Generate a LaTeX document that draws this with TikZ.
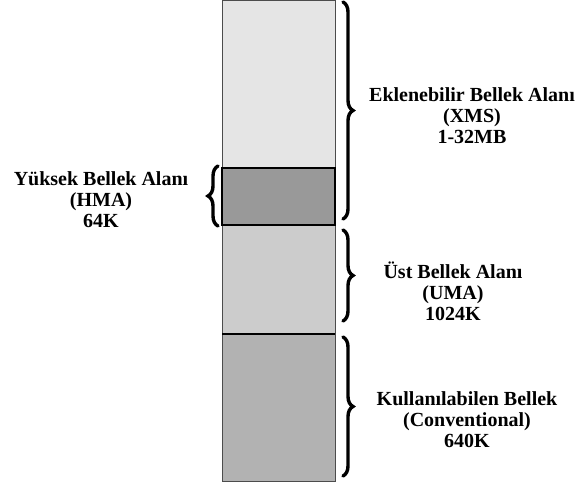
\documentclass[tikz,border=0pt]{standalone}
\usepackage{fontspec}
\setmainfont{Liberation Serif}
\usetikzlibrary{decorations.pathreplacing,positioning}
\tikzset{
  seg/.style={draw=black!70,line width=0.8pt},
  bracestyle/.style={decorate,decoration={brace,amplitude=10pt},line width=3.4pt,line cap=round},
  lbl/.style={align=center,font=\bfseries\fontsize{20}{21}\selectfont,inner sep=0pt}
}
\begin{document}
\begin{tikzpicture}[x=1pt,y=-1pt]
                \useasboundingbox (0,0) rectangle (576,485);
                \def\l{222}
                \def\r{335}
                \coordinate (m0) at (\l,0);
                \coordinate (m1) at (\r,168);
                \coordinate (m2) at (\l,168);
                \coordinate (m3) at (\r,225);
                \coordinate (m4) at (\l,225);
                \coordinate (m5) at (\r,334);
                \coordinate (m6) at (\l,334);
                \coordinate (m7) at (\r,481);
                %Shade
                \filldraw[seg,fill=gray!20] (m0) rectangle (m1);
                \filldraw[seg,fill=gray!40] (m4) rectangle (m5);
                \filldraw[seg,fill=gray!60] (m6) rectangle (m7);
                \filldraw[fill=gray!80,draw=black,line width=1.6pt] (m2) rectangle (m3);
                \draw[line width=1.2pt] (m6) -- (m6-|m7);
                %Braces
                \coordinate (b1) at (343,2);
                \coordinate (b2) at (343,219);
                \coordinate (b3) at (343,230);
                \coordinate (b4) at (343,321);
                \coordinate (b5) at (343,337);
                \coordinate (b6) at (343,476);
                \coordinate (b7) at (218,226);
                \coordinate (b8) at (218,166);
                \draw[bracestyle] (b1) -- (b2);
                \draw[bracestyle] (b3) -- (b4);
                \draw[bracestyle] (b5) -- (b6);
                \draw[bracestyle] (b7) -- (b8);
                %Labels
                \node[lbl] (xms) at (472,116) {Eklenebilir Bellek Alanı\\(XMS)\\1-32MB};
                \node[lbl] (uma) at (453,291) {Üst Bellek Alanı\\(UMA)\\1024K};
                \node[lbl] (conv) at (467,420) {Kullanılabilen Bellek\\(Conventional)\\640K};
                \node[lbl] (hma) at (101,200) {Yüksek Bellek Alanı\\(HMA)\\64K};
            \end{tikzpicture}
\end{document}
